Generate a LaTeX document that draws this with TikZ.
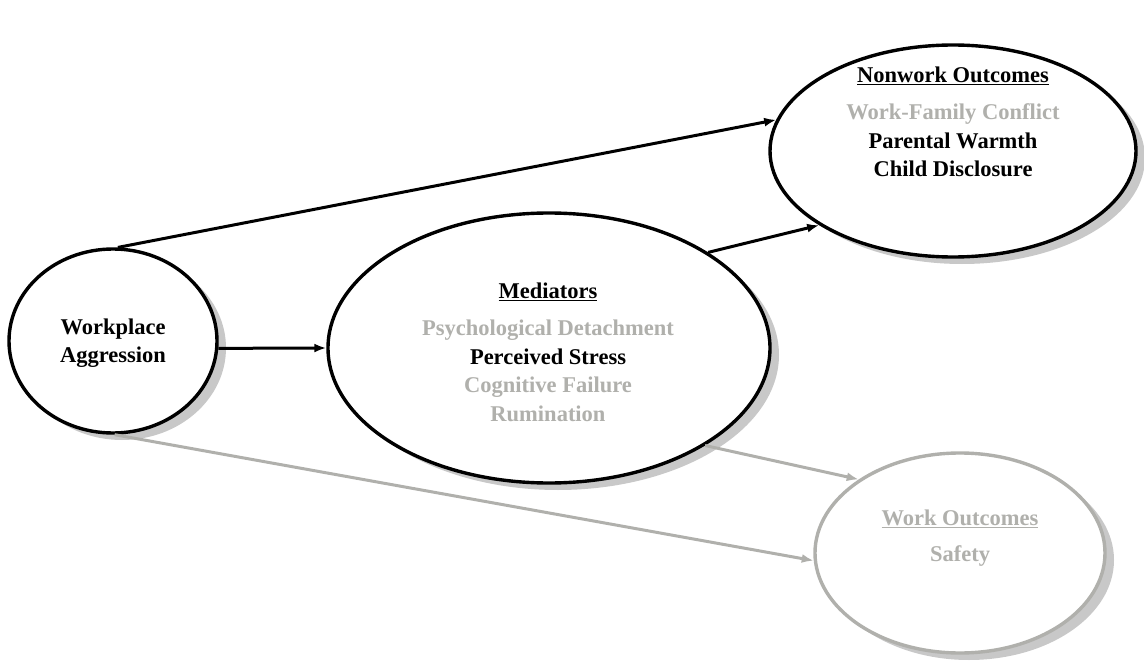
\documentclass[tikz,border=0pt]{standalone}
\usepackage{fontspec}
\setmainfont{Liberation Serif}
\usepackage{tikz}
\usetikzlibrary{
  arrows.meta,
  positioning,
  shapes.geometric,
  shadows
}
\definecolor{FadedGray}{RGB}{176,176,172}
\definecolor{ShadowGray}{RGB}{200,200,200}
\tikzset{
  construct/.style={ellipse,draw=black,line width=3.4pt,fill=white,inner sep=0pt,drop shadow={shadow xshift=9pt,shadow yshift=-7pt,fill=ShadowGray,opacity=1}},
  fadedconstruct/.style={construct,draw=FadedGray},
  labeltext/.style={align=center,inner sep=0pt,font=\bfseries\fontsize{22.5}{28.5}\selectfont},
  linkarrow/.style={-{Latex[length=12pt,width=9pt]},line width=3pt,draw=black},
  fadedarrow/.style={linkarrow,draw=FadedGray}
}

\begin{document}
\begin{tikzpicture}[x=1pt,y=-1pt]
\useasboundingbox (0,0) rectangle (1144,666);

\node[construct, minimum width=208pt, minimum height=184pt] (wa) at (113,341) {};
\node[construct, minimum width=442pt, minimum height=270pt] (med) at (549,348) {};
\node[construct, minimum width=366pt, minimum height=212pt] (nw) at (953,151) {};
\node[fadedconstruct, minimum width=290pt, minimum height=200pt] (wo) at (960,553) {};

\node[labeltext] (watext) at (113,343) {Workplace\\Aggression};
\node[labeltext] (medtext) at (548,352) {\underline{Mediators}\\[9pt]
  {\color{FadedGray}Psychological Detachment}\\
  Perceived Stress\\
  {\color{FadedGray}Cognitive Failure}\\
  {\color{FadedGray}Rumination}};
\node[labeltext] (nwtext) at (953,122) {\underline{Nonwork Outcomes}\\[9pt]
  {\color{FadedGray}Work-Family Conflict}\\
  Parental Warmth\\
  Child Disclosure};
\node[labeltext, text=FadedGray] (wotext) at (960,538) {\underline{Work Outcomes}\\[8pt] Safety};

\draw[linkarrow] (wa.87) -- (nw.170);
\draw[linkarrow] (wa.-4) -- (med.west);
\draw[linkarrow] (med.31) -- (nw.209);
\draw[fadedarrow] (wa.-89) -- (wo.183);
\draw[fadedarrow] (med.-32) -- (wo.144);
\end{tikzpicture}
\end{document}
